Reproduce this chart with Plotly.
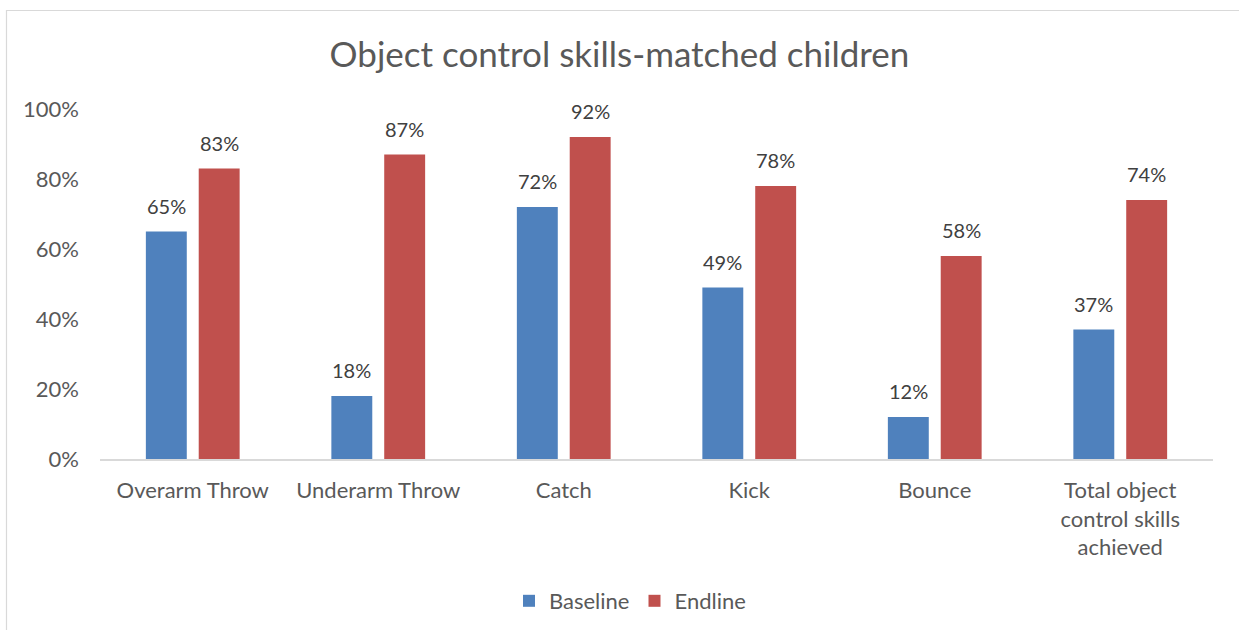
import plotly.graph_objects as go

categories = ["Overarm Throw", "Underarm Throw", "Catch", "Kick", "Bounce",
              "Total object<br>control skills<br>achieved"]
baseline = [0.65, 0.18, 0.72, 0.49, 0.12, 0.37]
endline = [0.83, 0.87, 0.92, 0.78, 0.58, 0.74]
y_ticks = [0, 0.2, 0.4, 0.6, 0.8, 1.0]
y_tick_labels = ["0%", "20%", "40%", "60%", "80%", "100%"]

FONT = "Lato, 'Open Sans', sans-serif"
GRAY = "#595959"

W, H = 1239, 630
L, R, T, B = 100, 26, 109, 171
BARGAP, GROUPGAP = 0.43, 0.226

fig = go.Figure()
series = [("Baseline", baseline, "#4F81BD"), ("Endline", endline, "#C0504D")]
for name, vals, color in series:
    fig.add_trace(go.Bar(
        x=categories, y=vals, name=name, marker_color=color,
        marker_line_width=0,
    ))

# value labels above each bar, shifted onto their bar within the group
cat_px = (W - L - R) / len(categories)
slot = cat_px * (1 - BARGAP) / 2
for i, (name, vals, color) in enumerate(series):
    shift = (i - 0.5) * slot
    for c, v in zip(categories, vals):
        fig.add_annotation(x=c, y=v, text=f"{round(v * 100)}%",
                           showarrow=False, xshift=shift, yshift=12,
                           yanchor="bottom",
                           font=dict(family=FONT, size=20, color="#404040"))

# chart-area border, extended past the page edges on the right and bottom
px = lambda x: (x - L) / (W - L - R)
py = lambda y: (H - B - y) / (H - T - B)
fig.add_shape(type="rect", xref="paper", yref="paper",
              x0=px(6.5), x1=px(1260), y0=py(10.5), y1=py(660),
              line=dict(color="#D9D9D9", width=1.2), fillcolor="rgba(0,0,0,0)",
              layer="below")

fig.update_layout(
    width=W, height=H,
    margin=dict(l=L, r=R, t=T, b=B, autoexpand=False),
    paper_bgcolor="white", plot_bgcolor="white",
    title=dict(text="Object control skills-matched children",
               x=0.5, xanchor="center", y=1 - 55 / H, yanchor="middle",
               font=dict(family=FONT, size=35, color=GRAY)),
    barmode="group", bargap=BARGAP, bargroupgap=GROUPGAP,
    font=dict(family=FONT, color=GRAY, size=22),
    xaxis=dict(showline=True, linecolor="#D9D9D9", linewidth=1.5,
               ticks="", tickfont=dict(size=22, color=GRAY), ticklabelstandoff=11),
    yaxis=dict(range=[0, 1.0], tickvals=y_ticks, ticktext=y_tick_labels,
               showgrid=False, zeroline=False, showline=False,
               tickfont=dict(size=22, color=GRAY), ticklabelstandoff=20),
    legend=dict(orientation="h", x=px(630), xanchor="center",
                y=py(601), yanchor="middle",
                font=dict(size=22, color=GRAY), itemwidth=30,
                traceorder="normal"),
    showlegend=True,
)

fig.write_html("out.html")
